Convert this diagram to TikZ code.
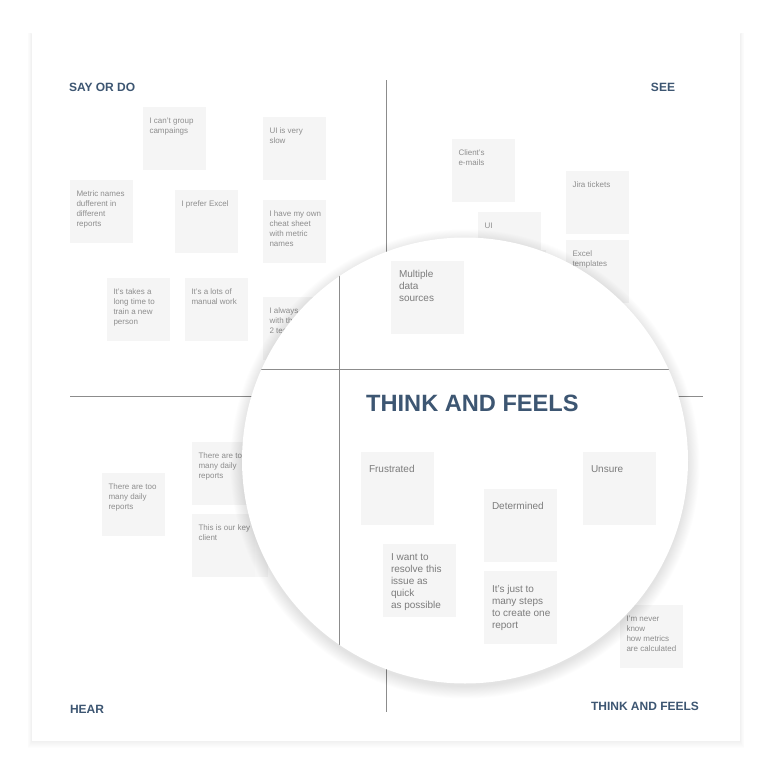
\documentclass[tikz,border=0pt]{standalone}
\usepackage{fontspec}
\setmainfont{Liberation Sans}
\usetikzlibrary{calc}

\definecolor{titleblue}{HTML}{3D5672}
\definecolor{notefill}{HTML}{F5F5F5}
\definecolor{notepale}{HTML}{F7F7F7}
\definecolor{notetext}{HTML}{8E8E8E}
\definecolor{zoomtext}{HTML}{7C7C7C}
\definecolor{rulegray}{HTML}{8C8C8C}

\tikzset{
  note/.style={fill=notefill, minimum width=63pt, minimum height=63pt,
    inner sep=0pt, outer sep=0pt, anchor=north west},
  bignote/.style={note, minimum width=73pt, minimum height=73pt},
  notetxt/.style={anchor=base west, inner sep=0pt, outer sep=0pt, text=notetext,
    font=\fontsize{8}{10}\selectfont},
  bignotetxt/.style={anchor=base west, inner sep=0pt, outer sep=0pt, text=zoomtext,
    font=\fontsize{10}{12}\selectfont},
  quadlabel/.style={inner sep=0pt, outer sep=0pt, text=titleblue,
    font=\bfseries\fontsize{12}{14}\selectfont},
  divider/.style={draw=rulegray, line width=0.9pt},
}

% small sticky note: name, x, y, lines
\newcommand\smallnote[4]{%
  \node[note] (#1) at (#2,#3) {};
  \node[notetxt] (#1-text) at ([xshift=6.5pt,yshift=-16pt]#1.north west)
    {\parbox[t]{62pt}{#4}};}
% sticky note inside the lens: name, x, y, baseline offset, lines
\newcommand\largenote[5]{%
  \node[bignote] (#1) at (#2,#3) {};
  \node[bignotetxt] (#1-text) at ([xshift=8pt,yshift=-#4pt]#1.north west)
    {\parbox[t]{72pt}{#5}};}

\begin{document}
\begin{tikzpicture}[x=1pt,y=-1pt]
  \useasboundingbox (0,0) rectangle (772,779);
  \fill[white] (0,0) rectangle (772,779);

  % board shadow and board
  \foreach \k in {1,...,7}
    \fill[black,opacity=0.006] (32-\k*0.6,33-\k*0.2+1) rectangle (740+\k*0.6,741+\k*1.0);
  \fill[white] (32,33) rectangle (740,741);
  \coordinate (board-nw) at (32,33);

  % quadrant dividers
  \coordinate (vtop) at (386,80);
  \coordinate (vbot) at (386,712);
  \coordinate (hleft) at (70,396);
  \coordinate (hright) at (703,396);
  \draw[divider] (vtop) -- (vbot);
  \draw[divider] (hleft) -- (hright);

  % quadrant titles
  \node[quadlabel, anchor=base west] (say) at (69,91) {SAY OR DO};
  \node[quadlabel, anchor=base east] (see) at (675,91) {SEE};
  \node[quadlabel, anchor=base west] (hear) at (70,713) {HEAR};
  \node[quadlabel, anchor=base west] (think) at (591,710) {THINK AND FEELS};

  % say or do
  \smallnote{sa1}{143}{107}{I can't group\\campaings}
  \smallnote{sa2}{263}{117}{UI is very\\slow}
  \smallnote{sa3}{70}{180}{Metric names\\dufferent in\\different\\reports}
  \smallnote{sa4}{175}{190}{I prefer Excel}
  \smallnote{sa5}{263}{200}{I have my own\\cheat sheet\\with metric\\names}
  \smallnote{sa6}{107}{278}{It's takes a\\long time to\\train a new\\person}
  \smallnote{sa7}{185}{278}{It's a lots of\\manual work}
  \smallnote{sa8}{263}{297}{I always\\with th\\2 tea}

  % see
  \smallnote{se1}{452}{139}{Client's\\e-mails}
  \smallnote{se2}{478}{212}{UI}
  \smallnote{se3}{566}{171}{Jira tickets}
  \smallnote{se4}{566}{240}{Excel\\templates}

  % hear
  \smallnote{he1}{102}{473}{There are too\\many daily\\reports}
  \smallnote{he2}{192}{442}{There are to\\many daily\\reports}
  \smallnote{he3}{192}{514}{This is our key\\client}
  \fill[notepale] (255,506) rectangle (268,577);
  \fill[notefill] (541,250) rectangle (546,262);

  % think and feels
  \smallnote{tf1}{620}{605}{I'm never\\know\\how metrics\\are calculated}

  % magnifying lens
  \coordinate (lens) at (465,460.5);
  \foreach \k in {1,...,14}
    \fill[black,opacity=0.006] ($(lens)+(0,3.5)$) circle [radius={222pt+\k*0.9pt}];
  \fill[white] (lens) circle [radius=223pt];

  \begin{scope}
    \clip (lens) circle [radius=223pt];
    \coordinate (ztop) at (339,200);
    \coordinate (zbot) at (339,720);
    \coordinate (zleft) at (230,369);
    \coordinate (zright) at (700,369);
    \draw[divider] (ztop) -- (zbot);
    \draw[divider] (zleft) -- (zright);

    \largenote{zm1}{391}{261}{16.5}{Multiple\\data\\sources}

    \node[anchor=base west, inner sep=0pt, text=titleblue,
      font=\bfseries\fontsize{23.6}{26}\selectfont] (bigtitle) at (366,411) {THINK AND FEELS};

    \largenote{zm2}{361}{452}{20.5}{Frustrated}
    \largenote{zm3}{484}{489}{20.5}{Determined}
    \largenote{zm4}{583}{452}{20.5}{Unsure}
    \largenote{zm5}{383}{544}{16.5}{I want to\\resolve this\\issue as\\quick\\as possible}
    \largenote{zm6}{484}{571}{21.5}{It's just to\\many steps\\to create one\\report}
  \end{scope}
\end{tikzpicture}
\end{document}
